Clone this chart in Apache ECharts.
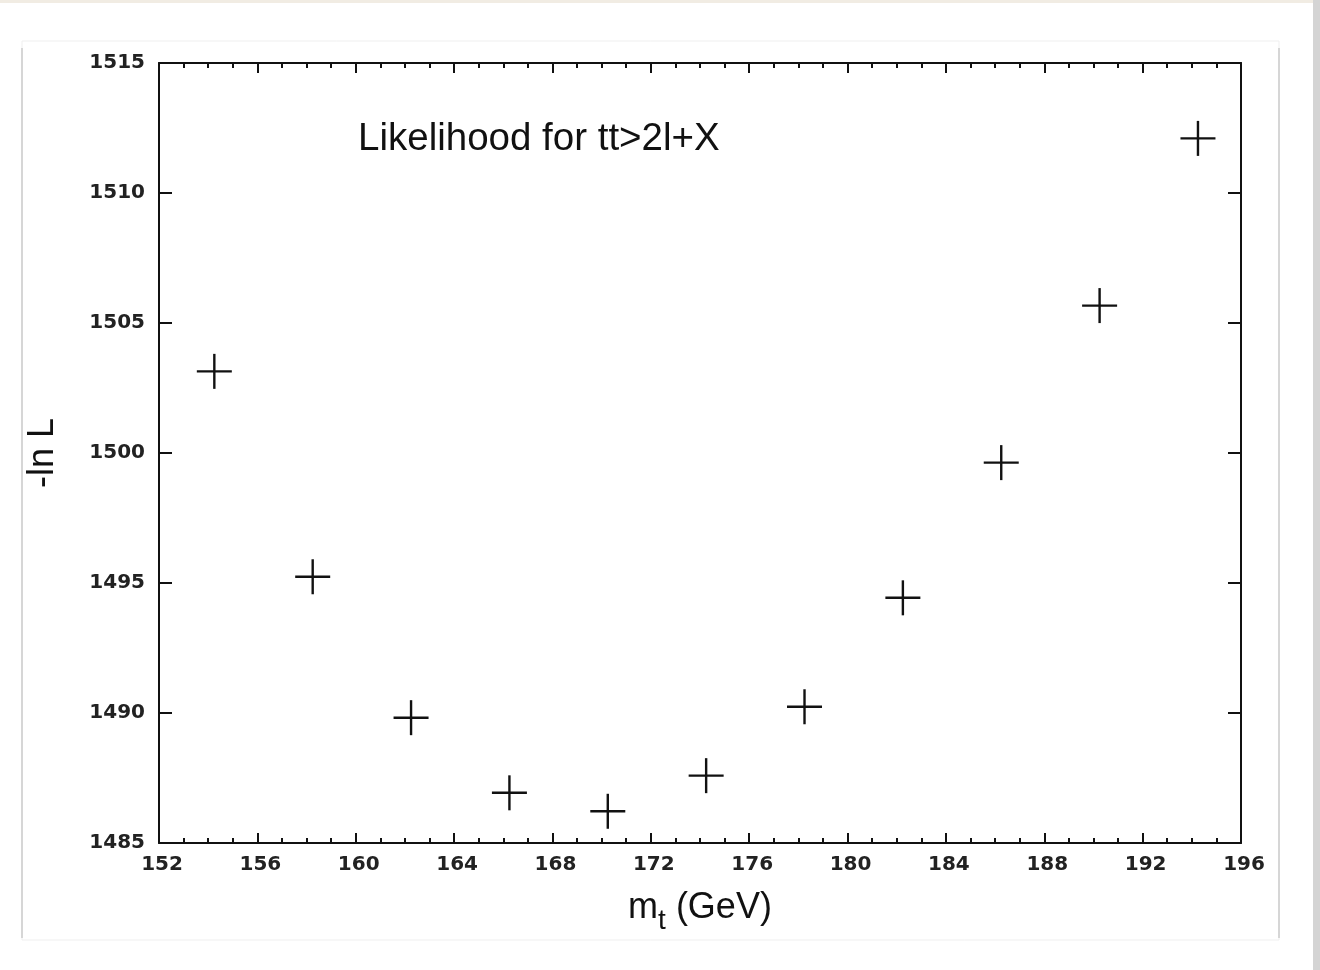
<!DOCTYPE html>
<html>
<head>
<meta charset="utf-8">
<script src="https://cdn.jsdelivr.net/npm/echarts@6/dist/echarts.min.js"></script>
<style>
html,body{margin:0;padding:0;background:#fff;}
#chart{width:1320px;height:970px;}
</style>
</head>
<body>
<div id="chart"></div>
<script>
// Data
var massValues = [154.25, 158.25, 162.25, 166.25, 170.25, 174.25, 178.25, 182.25, 186.25, 190.25, 194.25];
var negLnL = [1503.14, 1495.24, 1489.82, 1486.93, 1486.22, 1487.59, 1490.24, 1494.43, 1499.63, 1505.67, 1512.1];
var xTicks = {min: 152, max: 196, step: 4};
var yTicks = {min: 1485, max: 1515, step: 5};
var titleText = 'Likelihood for tt>2l+X';
var xName = 'm{sub|t} (GeV)';
var yName = '-ln L';

var points = massValues.map(function (m, i) { return [m, negLnL[i]]; });

var chart = echarts.init(document.getElementById('chart'), null, {renderer: 'canvas'});
var tickFont = {fontFamily: 'DejaVu Sans', fontSize: 20, fontWeight: 'bold', color: '#222'};
var plainNum = function (v) { return String(v); };

var option = {
  backgroundColor: '#ffffff',
  animation: false,
  grid: {left: 159, right: 79, top: 63, bottom: 127, containLabel: false},
  graphic: [
    {type: 'rect', silent: true, z: -10, shape: {x: 0, y: 0, width: 1320, height: 3}, style: {fill: '#f1ece3'}},
    {type: 'rect', silent: true, z: -10, shape: {x: 1313, y: 0, width: 7, height: 970}, style: {fill: '#d4d4d4'}},
    {type: 'rect', silent: true, z: -9, shape: {x: 22, y: 41, width: 1257, height: 899}, style: {fill: '#fff', stroke: '#efefef', lineWidth: 1}},
    {type: 'line', silent: true, z: -8, shape: {x1: 22, y1: 48, x2: 22, y2: 938}, style: {stroke: '#d6d6d6', lineWidth: 2}},
    {type: 'line', silent: true, z: -8, shape: {x1: 1279, y1: 48, x2: 1279, y2: 938}, style: {stroke: '#d6d6d6', lineWidth: 2}},
    {type: 'text', left: 358, top: 120, style: {text: titleText, fontFamily: 'Liberation Sans', fontSize: 38.5, fill: '#111'}}
  ],
  xAxis: [
    {
      type: 'value', position: 'bottom', min: xTicks.min, max: xTicks.max, interval: xTicks.step,
      axisLine: {show: true, lineStyle: {color: '#111', width: 2}},
      axisTick: {show: true, inside: true, length: 10, lineStyle: {color: '#111', width: 2}},
      minorTick: {show: true, splitNumber: 4, length: 5, lineStyle: {color: '#111', width: 2}},
      splitLine: {show: false},
      axisLabel: Object.assign({margin: 12, formatter: plainNum, padding: [0, 0, 0, 6]}, tickFont),
      name: xName, nameLocation: 'middle', nameGap: 38,
      nameTextStyle: {
        fontFamily: 'Liberation Sans', fontSize: 36, color: '#111',
        rich: {sub: {fontFamily: 'Liberation Sans', fontSize: 28, color: '#111', lineHeight: 54, verticalAlign: 'bottom'}}
      }
    },
    {
      type: 'value', position: 'top', min: xTicks.min, max: xTicks.max, interval: xTicks.step,
      axisLine: {show: true, lineStyle: {color: '#111', width: 2}},
      axisTick: {show: true, inside: true, length: 10, lineStyle: {color: '#111', width: 2}},
      minorTick: {show: true, splitNumber: 4, length: 5, lineStyle: {color: '#111', width: 2}},
      splitLine: {show: false}, axisLabel: {show: false}
    }
  ],
  yAxis: [
    {
      type: 'value', position: 'left', min: yTicks.min, max: yTicks.max, interval: yTicks.step,
      axisLine: {show: true, lineStyle: {color: '#111', width: 2}},
      axisTick: {show: true, inside: true, length: 13, lineStyle: {color: '#111', width: 2}},
      splitLine: {show: false},
      axisLabel: Object.assign({margin: 14, formatter: plainNum}, tickFont),
      name: yName, nameLocation: 'middle', nameGap: 98, nameRotate: 90,
      nameTextStyle: {fontFamily: 'Liberation Sans', fontSize: 36, color: '#111'}
    },
    {
      type: 'value', position: 'right', min: yTicks.min, max: yTicks.max, interval: yTicks.step,
      axisLine: {show: true, lineStyle: {color: '#111', width: 2}},
      axisTick: {show: true, inside: true, length: 13, lineStyle: {color: '#111', width: 2}},
      splitLine: {show: false}, axisLabel: {show: false}
    }
  ],
  series: [{
    type: 'custom',
    xAxisIndex: 0, yAxisIndex: 0,
    data: points,
    renderItem: function (params, api) {
      var c = api.coord([api.value(0), api.value(1)]);
      var h = 17.5;
      var st = {stroke: '#111', lineWidth: 2.4};
      return {
        type: 'group',
        children: [
          {type: 'line', shape: {x1: c[0] - h, y1: c[1], x2: c[0] + h, y2: c[1]}, style: st},
          {type: 'line', shape: {x1: c[0], y1: c[1] - h, x2: c[0], y2: c[1] + h}, style: st}
        ]
      };
    }
  }]
};
chart.setOption(option);
</script>
</body>
</html>
